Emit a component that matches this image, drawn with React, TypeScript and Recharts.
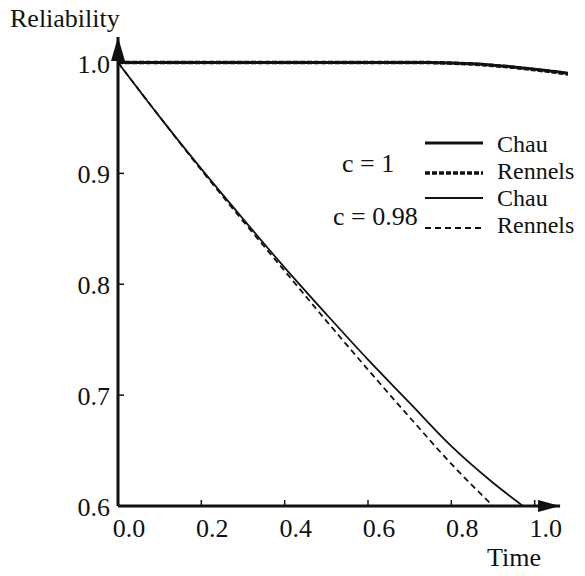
import { LineChart, Line, XAxis, YAxis, ReferenceLine, ReferenceDot } from "recharts";

// c = 1 curves (thick)
const c1Time = [0, 0.2, 0.4, 0.6, 0.7, 0.75, 0.8, 0.85, 0.9, 0.95, 1.0, 1.05, 1.08];
const chauC1 = [1, 1, 1, 1, 1, 0.9999, 0.9995, 0.9988, 0.9976, 0.996, 0.994, 0.9918, 0.9903];
const rennelsC1 = [1, 1, 1, 1, 1, 0.9999, 0.9994, 0.9986, 0.9973, 0.9956, 0.9935, 0.9912, 0.9896];

// c = 0.98 curves (thin)
const chau098Time = [0, 0.1, 0.2, 0.3, 0.4, 0.5, 0.6, 0.7, 0.8, 0.9, 0.972];
const chau098 = [1.0, 0.951, 0.904, 0.859, 0.815, 0.773, 0.732, 0.693, 0.654, 0.621, 0.6];
const rennels098Time = [0, 0.1, 0.2, 0.3, 0.4, 0.5, 0.6, 0.7, 0.8, 0.9];
const rennels098 = [1.0, 0.951, 0.903, 0.857, 0.812, 0.767, 0.723, 0.68, 0.638, 0.6];

const timeTicks = [0, 0.2, 0.4, 0.6, 0.8, 1.0];
const relTicks = [0.6, 0.7, 0.8, 0.9, 1.0];
const timeMax = 1.08;
const timeArrowEnd = 1.061;
const relMin = 0.6;
const relMax = 1.023;

const FONT = "'Liberation Serif', 'DejaVu Serif', serif";
const INK = "#111";

const toPoints = (t: number[], r: number[]) => t.map((x, i) => ({ t: x, r: r[i] }));

function XTick(props: any) {
  const { x, y, payload } = props;
  return (
    <g>
      {payload.value !== 0 && <line x1={x} y1={y} x2={x} y2={y - 6} stroke={INK} strokeWidth={1.5} />}
      <text x={x + 11} y={y + 31} textAnchor="middle" fontFamily={FONT} fontSize={26} fill={INK}>
        {payload.value.toFixed(1)}
      </text>
    </g>
  );
}

function YTick(props: any) {
  const { x, y, payload } = props;
  return (
    <g>
      <line x1={x} y1={y} x2={x + 6} y2={y} stroke={INK} strokeWidth={1.5} />
      <text x={x - 8} y={y + 10} textAnchor="end" fontFamily={FONT} fontSize={26} fill={INK}>
        {payload.value.toFixed(1)}
      </text>
    </g>
  );
}

const upArrow = (p: any) => (
  <polygon points={`${p.cx},${p.cy} ${p.cx - 7},${p.cy + 24} ${p.cx + 7},${p.cy + 24}`} fill={INK} />
);
const rightArrow = (p: any) => (
  <polygon points={`${p.cx},${p.cy} ${p.cx - 22},${p.cy - 6} ${p.cx - 22},${p.cy + 6}`} fill={INK} />
);

export default function App() {
  return (
    <div style={{ position: "absolute", left: 0, top: 0, width: 585, height: 576, background: "#fff" }}>
      <LineChart width={585} height={576} margin={{ top: 37, right: 17, bottom: 0, left: 0 }}>
        <XAxis
          type="number"
          dataKey="t"
          domain={[0, timeMax]}
          ticks={timeTicks}
          axisLine={false}
          tickLine={false}
          tickSize={0}
          tickMargin={0}
          height={70}
          tick={<XTick />}
          allowDataOverflow
        />
        <YAxis
          type="number"
          dataKey="r"
          domain={[relMin, relMax]}
          ticks={relTicks}
          axisLine={{ stroke: INK, strokeWidth: 3 }}
          tickLine={false}
          tickSize={0}
          tickMargin={0}
          width={118}
          tick={<YTick />}
          allowDataOverflow
        />
        <ReferenceLine
          segment={[{ x: 0, y: relMin }, { x: timeArrowEnd, y: relMin }]}
          stroke={INK}
          strokeWidth={3}
        />
        <ReferenceDot x={timeArrowEnd} y={relMin} shape={rightArrow} />
        <ReferenceDot x={0} y={relMax} shape={upArrow} />
        <Line
          data={toPoints(rennels098Time, rennels098)}
          dataKey="r"
          type="monotone"
          stroke={INK}
          strokeWidth={1.8}
          strokeDasharray="6 4"
          dot={false}
          isAnimationActive={false}
        />
        <Line
          data={toPoints(chau098Time, chau098)}
          dataKey="r"
          type="monotone"
          stroke={INK}
          strokeWidth={1.8}
          dot={false}
          isAnimationActive={false}
        />
        <Line
          data={toPoints(c1Time, rennelsC1)}
          dataKey="r"
          type="monotone"
          stroke={INK}
          strokeWidth={3.5}
          strokeDasharray="5 2"
          dot={false}
          isAnimationActive={false}
        />
        <Line
          data={toPoints(c1Time, chauC1)}
          dataKey="r"
          type="monotone"
          stroke={INK}
          strokeWidth={3}
          dot={false}
          isAnimationActive={false}
        />
      </LineChart>
      <svg
        width={585}
        height={576}
        style={{ position: "absolute", left: 0, top: 0, pointerEvents: "none" }}
        fontFamily={FONT}
        fontSize={26}
        fill={INK}
      >
        <text x={10} y={27}>Reliability</text>
        <text x={487} y={566}>Time</text>
        <text x={342} y={172}>c = 1</text>
        <text x={333} y={225}>c = 0.98</text>
        <line x1={425} y1={143} x2={483} y2={143} stroke={INK} strokeWidth={3} />
        <line x1={425} y1={173} x2={483} y2={173} stroke={INK} strokeWidth={3.5} strokeDasharray="5 2" />
        <line x1={425} y1={198} x2={483} y2={198} stroke={INK} strokeWidth={1.8} />
        <line x1={425} y1={228} x2={483} y2={228} stroke={INK} strokeWidth={1.8} strokeDasharray="6 4" />
        <g fontSize={24}>
          <text x={497} y={152}>Chau</text>
          <text x={497} y={179}>Rennels</text>
          <text x={497} y={206}>Chau</text>
          <text x={497} y={233}>Rennels</text>
        </g>
      </svg>
    </div>
  );
}
